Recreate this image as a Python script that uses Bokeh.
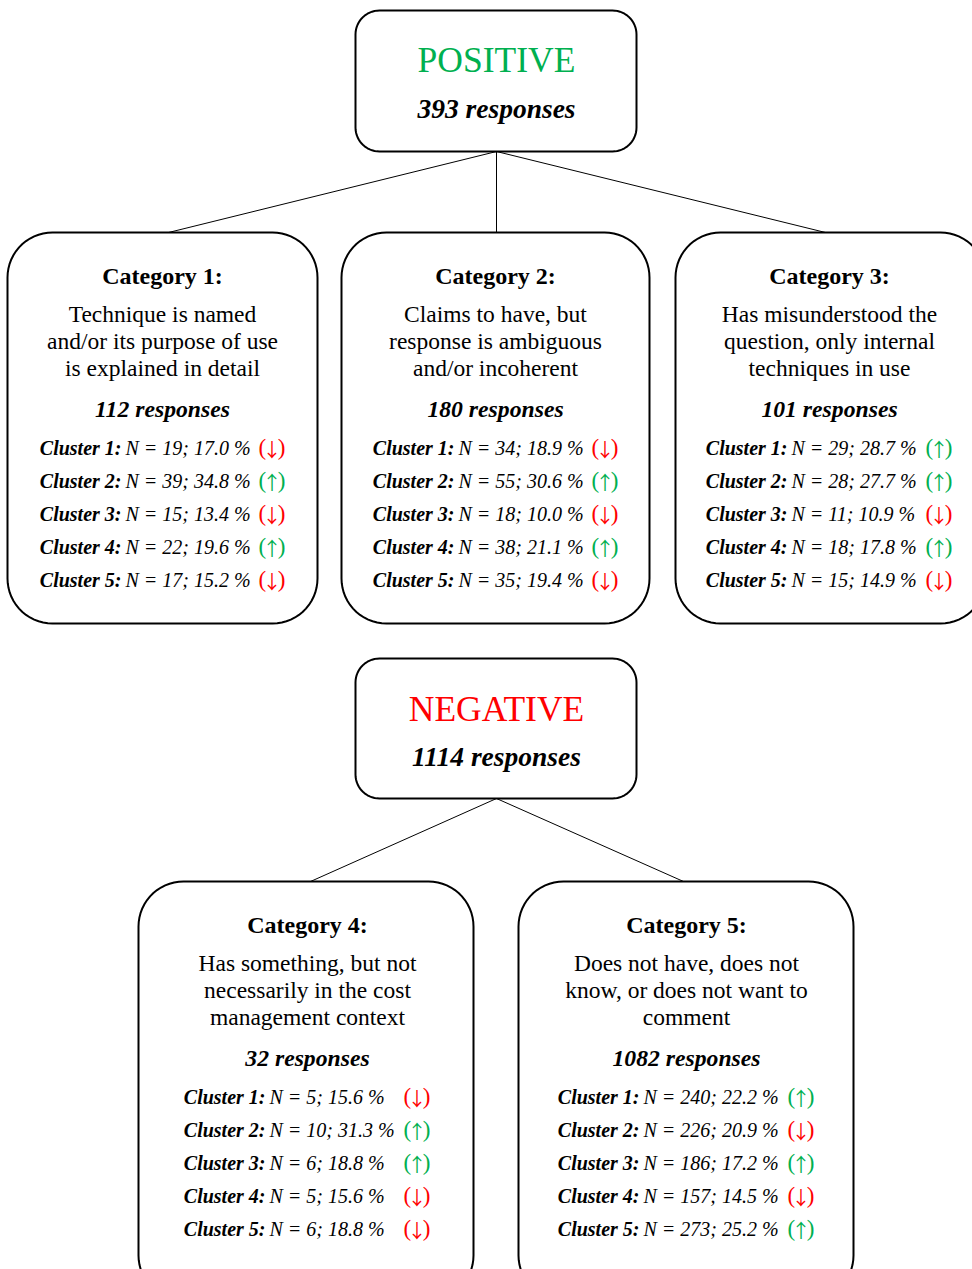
import numpy as np
from bokeh.plotting import figure
from bokeh.models import Range1d
from bokeh.core.properties import value
from bokeh.embed import file_html
from bokeh.resources import INLINE

# ---------------- data ----------------
root_labels = ["POSITIVE", "NEGATIVE"]
root_colors = ["#00B050", "#FF0000"]
root_responses = [393, 1114]

cat_titles = ["Category 1:", "Category 2:", "Category 3:", "Category 4:", "Category 5:"]
cat_desc = [
    ["Technique is named", "and/or its purpose of use", "is explained in detail"],
    ["Claims to have, but", "response is ambiguous", "and/or incoherent"],
    ["Has misunderstood the", "question, only internal", "techniques in use"],
    ["Has something, but not", "necessarily in the cost", "management context"],
    ["Does not have, does not", "know, or does not want to", "comment"],
]
cat_responses = [112, 180, 101, 32, 1082]
cat_parent = [0, 0, 0, 1, 1]

cluster_n = [
    [19, 39, 15, 22, 17],
    [34, 55, 18, 38, 35],
    [29, 28, 11, 18, 15],
    [5, 10, 6, 5, 6],
    [240, 226, 186, 157, 273],
]
cluster_pct = [
    [17.0, 34.8, 13.4, 19.6, 15.2],
    [18.9, 30.6, 10.0, 21.1, 19.4],
    [28.7, 27.7, 10.9, 17.8, 14.9],
    [15.6, 31.3, 18.8, 15.6, 18.8],
    [22.2, 20.9, 17.2, 14.5, 25.2],
]
cluster_dir = [
    ["down", "up", "down", "up", "down"],
    ["down", "up", "down", "up", "down"],
    ["up", "up", "down", "up", "down"],
    ["down", "up", "up", "down", "down"],
    ["up", "down", "up", "down", "up"],
]

# ---------------- layout (pixel geometry) ----------------
FONT = value("Liberation Serif")
ARROW_FONT = value("Noto Sans CJK JP")
root_boxes = [(355, 10, 636, 151), (355, 658, 636, 798)]
root_cx = [496, 496]
root_label_y = [59, 708]
root_resp_y = [108, 756]

cat_boxes = [(7, 232, 317, 623), (341, 232, 649, 623), (675, 232, 985, 623),
             (138, 881, 473, 1300), (518, 881, 853, 1300)]
cat_cx = [162, 495, 829, 307, 686]
cat_top = [232, 232, 232, 881, 881]
conn_end_x = [168, 496, 825, 310, 683]
cluster_anchor = [121, 454, 787, 265, 639]
arrow_x = [258, 591, 925, 403, 787]


def rounded_rect(x0, y0, x1, y1, r, n=16):
    xs, ys = [], []
    corners = [(x1 - r, y0 + r, -90, 0), (x1 - r, y1 - r, 0, 90),
               (x0 + r, y1 - r, 90, 180), (x0 + r, y0 + r, 180, 270)]
    for cx, cy, a0, a1 in corners:
        t = np.radians(np.linspace(a0, a1, n))
        xs.extend(cx + r * np.cos(t))
        ys.extend(cy + r * np.sin(t))
    return xs, ys


p = figure(width=972, height=1269, output_backend="svg", toolbar_location=None,
           x_range=Range1d(0, 972), y_range=Range1d(1269, 0),
           min_border=0, outline_line_color=None)
p.axis.visible = False
p.grid.visible = False
p.background_fill_color = "white"
p.border_fill_color = "white"

# connectors
for i in range(5):
    par = cat_parent[i]
    p.line([root_cx[par], conn_end_x[i]], [root_boxes[par][3], cat_top[i]],
           line_color="black", line_width=1)

# boxes
bx, by = [], []
for (x0, y0, x1, y1) in root_boxes:
    a, b = rounded_rect(x0, y0, x1, y1, 24)
    bx.append(a); by.append(b)
for (x0, y0, x1, y1) in cat_boxes:
    a, b = rounded_rect(x0, y0, x1, y1, 45)
    bx.append(a); by.append(b)
p.patches(bx, by, fill_color="white", line_color="black", line_width=2)

# root texts
p.text(x=root_cx, y=root_label_y, text=root_labels, text_color=root_colors,
       text_font=FONT, text_font_size="35.5px", text_align="center", text_baseline="middle")
p.text(x=root_cx, y=root_resp_y, text=[f"{v} responses" for v in root_responses],
       text_color="black", text_font=FONT, text_font_size="27.5px", text_font_style="bold italic",
       text_align="center", text_baseline="middle")

# category texts
for i in range(5):
    base = cat_top[i]
    cx = cat_cx[i]
    p.text(x=[cx], y=[base + 43], text=[cat_titles[i]], text_font=FONT, text_font_size="24px",
           text_font_style="bold", text_align="center", text_baseline="middle")
    p.text(x=[cx] * 3, y=[base + 81, base + 108, base + 135], text=cat_desc[i], text_font=FONT,
           text_font_size="23.5px", text_align="center", text_baseline="middle")
    p.text(x=[cx], y=[base + 176], text=[f"{cat_responses[i]} responses"], text_font=FONT,
           text_font_size="23.7px", text_font_style="bold italic", text_align="center",
           text_baseline="middle")
    ys = [base + 215 + 33 * k for k in range(5)]
    p.text(x=[cluster_anchor[i]] * 5, y=ys, text=[f"Cluster {k + 1}:" for k in range(5)],
           text_font=FONT, text_font_size="20px", text_font_style="bold italic",
           text_align="right", text_baseline="middle")
    p.text(x=[cluster_anchor[i] + 4] * 5, y=ys,
           text=[f"N = {n}; {v:.1f} %" for n, v in zip(cluster_n[i], cluster_pct[i])],
           text_font=FONT, text_font_size="20px", text_font_style="italic",
           text_align="left", text_baseline="middle")
    cols = ["#00B050" if d == "up" else "#FF0000" for d in cluster_dir[i]]
    ax = arrow_x[i]
    p.text(x=[ax] * 5, y=ys, text=["("] * 5, text_color=cols, text_font=FONT,
           text_font_size="23px", text_align="left", text_baseline="middle")
    p.text(x=[ax + 27] * 5, y=ys, text=[")"] * 5, text_color=cols, text_font=FONT,
           text_font_size="23px", text_align="right", text_baseline="middle")
    p.text(x=[ax + 13.5] * 5, y=[y + 1 for y in ys],
           text=["\u2191" if d == "up" else "\u2193" for d in cluster_dir[i]],
           text_color=cols, text_font=ARROW_FONT, text_font_size="19px",
           text_align="center", text_baseline="middle")

open("out.html", "w").write(file_html(p, INLINE))
